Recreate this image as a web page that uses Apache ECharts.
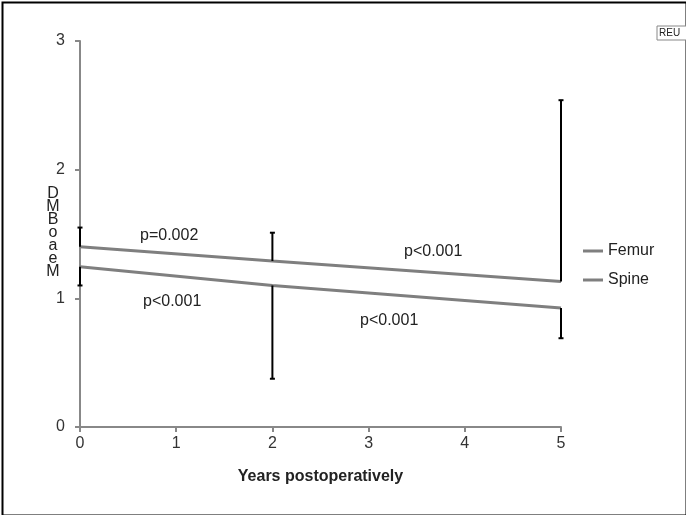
<!DOCTYPE html>
<html>
<head>
<meta charset="utf-8">
<script src="https://cdn.jsdelivr.net/npm/echarts@6/dist/echarts.min.js"></script>
<style>html,body{margin:0;padding:0;background:#fff}#c{width:686px;height:515px}</style>
</head>
<body>
<div id="c"></div>
<script>
const years = [0, 2, 5];
const femur = [1.40, 1.29, 1.13];
const spine = [1.245, 1.10, 0.925];
const femurUpper = [1.55, 1.51, 2.54];
const spineLower = [1.10, 0.375, 0.69];
const xTicks = [0, 1, 2, 3, 4, 5];
const yTicks = [0, 1, 2, 3];
const pLabels = ['p=0.002', 'p<0.001', 'p<0.001', 'p<0.001'];

const chart = echarts.init(document.getElementById('c'));
const font = 'Liberation Sans, Arial, sans-serif';

function errData(base, ext) {
  return years.map((x, i) => [x, base[i], ext[i]]);
}
function errRender(params, api) {
  const x = api.value(0);
  const p1 = api.coord([x, api.value(1)]);
  const p2 = api.coord([x, api.value(2)]);
  const cap = 2.5;
  const st = { stroke: '#000', lineWidth: 2 };
  return {
    type: 'group',
    children: [
      { type: 'line', shape: { x1: p1[0], y1: p1[1], x2: p2[0], y2: p2[1] }, style: st },
      { type: 'line', shape: { x1: p2[0] - cap, y1: p2[1], x2: p2[0] + cap, y2: p2[1] }, style: st }
    ]
  };
}

chart.setOption({
  animation: false,
  grid: { left: 80, right: 125, top: 41, bottom: 88 },
  legend: {
    orient: 'vertical', left: 578, top: 238, itemGap: 13,
    itemWidth: 20, itemHeight: 3, icon: 'rect',
    textStyle: { fontFamily: font, fontSize: 16, color: '#222' },
    data: ['Femur', 'Spine']
  },
  xAxis: {
    type: 'value', min: 0, max: 5, interval: 1,
    name: 'Years postoperatively', nameLocation: 'middle', nameGap: 42,
    nameTextStyle: { fontFamily: font, fontSize: 16, fontWeight: 'bold', color: '#222' },
    axisLine: { lineStyle: { color: '#888', width: 2 } },
    axisTick: { show: true, length: 5, lineStyle: { color: '#888', width: 2 } },
    axisLabel: { fontFamily: font, fontSize: 16, color: '#333', margin: 9,
      formatter: v => xTicks.includes(v) ? String(v) : '' },
    splitLine: { show: false }
  },
  yAxis: {
    type: 'value', min: 0, max: 3, interval: 1,
    axisLine: { show: true, lineStyle: { color: '#888', width: 2 } },
    axisTick: { show: true, inside: false, length: 5, lineStyle: { color: '#888', width: 2 } },
    axisLabel: { fontFamily: font, fontSize: 16, color: '#333', margin: 15,
      formatter: v => yTicks.includes(v) ? String(v) : '' },
    splitLine: { show: false }
  },
  series: [
    { name: 'Femur', type: 'line', data: years.map((x, i) => [x, femur[i]]),
      symbol: 'none', color: '#7f7f7f', lineStyle: { width: 3, color: '#7f7f7f' }, z: 3 },
    { name: 'Spine', type: 'line', data: years.map((x, i) => [x, spine[i]]),
      symbol: 'none', color: '#7f7f7f', lineStyle: { width: 3, color: '#7f7f7f' }, z: 3 },
    { type: 'custom', renderItem: errRender, data: errData(femur, femurUpper), z: 4 },
    { type: 'custom', renderItem: errRender, data: errData(spine, spineLower), z: 4 }
  ],
  graphic: [
    { type: 'rect', left: 0, top: 0, shape: { x: 1, y: 1, width: 684, height: 513 },
      style: { fill: 'none', stroke: '#000', lineWidth: 2 }, silent: true },
    { type: 'text', left: 140, top: 228, style: { text: pLabels[0], font: '16px ' + font, fill: '#222' } },
    { type: 'text', left: 404, top: 244, style: { text: pLabels[1], font: '16px ' + font, fill: '#222' } },
    { type: 'text', left: 143, top: 294, style: { text: pLabels[2], font: '16px ' + font, fill: '#222' } },
    { type: 'text', left: 360, top: 313, style: { text: pLabels[3], font: '16px ' + font, fill: '#222' } },
    { type: 'text', x: 53, y: 187, style: { text: 'D\nM\nB\no\na\ne\nM', font: '16px ' + font,
      fill: '#222', align: 'center', lineHeight: 13 } },
    { type: 'rect', shape: { x: 657, y: 26, width: 32, height: 14 },
      style: { fill: '#fff', stroke: '#888', lineWidth: 1 } },
    { type: 'text', x: 659, y: 28, style: { text: 'REU', font: '10px ' + font, fill: '#222' } }
  ]
});
</script>
</body>
</html>
